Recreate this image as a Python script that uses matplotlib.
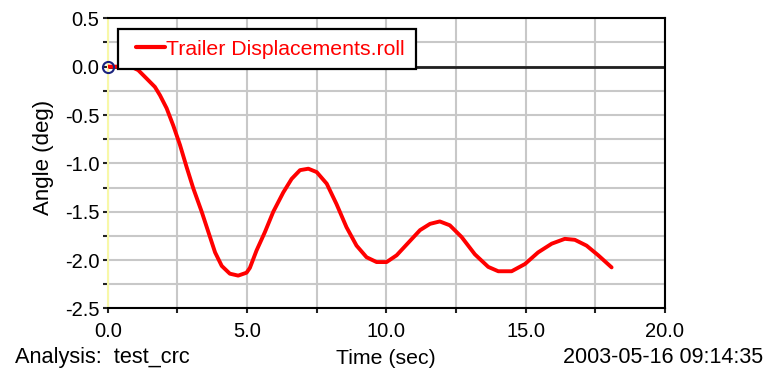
import matplotlib
matplotlib.use("Agg")
import numpy as np
import matplotlib.pyplot as plt
from matplotlib.ticker import MultipleLocator, FormatStrFormatter

# Trailer roll angle over time
time_s = [0.0, 0.5, 0.9, 1.09, 1.45, 1.69, 1.87, 2.11, 2.35, 2.59, 2.83, 3.07,
          3.37, 3.61, 3.85, 4.09, 4.38, 4.68, 4.98, 5.1, 5.34, 5.64, 5.94,
          6.3, 6.6, 6.9, 7.2, 7.5, 7.86, 8.21, 8.57, 8.93, 9.29, 9.65, 10.01,
          10.37, 10.79, 11.21, 11.57, 11.92, 12.28, 12.7, 13.18, 13.66, 14.02,
          14.5, 14.98, 15.45, 15.94, 16.41, 16.77, 17.19, 17.61, 18.09]
roll_deg = [0.0, 0.0, -0.01, -0.036, -0.14, -0.21, -0.295, -0.43, -0.61,
            -0.81, -1.04, -1.26, -1.5, -1.71, -1.92, -2.06, -2.14, -2.16,
            -2.13, -2.08, -1.9, -1.71, -1.5, -1.3, -1.16, -1.07, -1.055,
            -1.09, -1.21, -1.42, -1.66, -1.85, -1.97, -2.02, -2.02, -1.95,
            -1.82, -1.69, -1.625, -1.6, -1.64, -1.76, -1.94, -2.07, -2.115,
            -2.115, -2.04, -1.92, -1.83, -1.78, -1.79, -1.85, -1.95, -2.075]
series_name = "Trailer Displacements.roll"

analysis_text = "Analysis:  test_crc"
x_title = "Time (sec)"
stamp_text = "2003-05-16 09:14:35"
y_title = "Angle (deg)"

plt.rcParams["font.family"] = ["Liberation Sans", "DejaVu Sans"]

fig = plt.figure(figsize=(7.65, 3.72), dpi=100)
ax = fig.add_axes([0.141, 0.1707, 0.728, 0.7802])

ax.set_xlim(0, 20)
ax.set_ylim(-2.5, 0.5)

ax.xaxis.set_major_locator(MultipleLocator(5))
ax.xaxis.set_minor_locator(MultipleLocator(2.5))
ax.yaxis.set_major_locator(MultipleLocator(0.5))
ax.yaxis.set_minor_locator(MultipleLocator(0.25))
ax.xaxis.set_major_formatter(FormatStrFormatter("%.1f"))
ax.yaxis.set_major_formatter(FormatStrFormatter("%.1f"))

ax.grid(True, which="both", color="#c8c8c8", linewidth=1.5)
ax.set_axisbelow(True)

ax.tick_params(axis="both", which="both", direction="out", length=3.5,
               width=1.5, color="#222222", labelsize=14.5)
ax.tick_params(axis="x", which="both", pad=6)
ax.tick_params(axis="y", which="both", pad=2.5)

for side in ("top", "right", "bottom"):
    ax.spines[side].set_color("black")
    ax.spines[side].set_linewidth(1.5)
ax.spines["left"].set_color("#f8f8a8")
ax.spines["left"].set_linewidth(1.5)

ax.axhline(0, color="#202020", linewidth=2, zorder=2)

ax.plot(time_s, roll_deg, color="red", linewidth=2.8, label=series_name,
        zorder=3, solid_joinstyle="round", solid_capstyle="round")
ax.plot(time_s[0], roll_deg[0], marker="o", markersize=8, markeredgecolor="#1a237e",
        markerfacecolor="none", markeredgewidth=1.5, linestyle="none", zorder=4,
        clip_on=False)

leg = ax.legend(loc="upper left", bbox_to_anchor=(0.018, 0.963),
                borderaxespad=0, fontsize=15.3, labelcolor="red",
                handlelength=1.7, handletextpad=0.08, borderpad=0.5,
                fancybox=False, framealpha=1, edgecolor="black")
leg.get_frame().set_linewidth(1.6)
leg.set_zorder(5)
# Inset the sample line toward the label, leaving a wider left margin
for legline in leg.get_lines():
    xd = np.asarray(legline.get_xdata(), dtype=float)
    start = xd[0] + 0.22 * (xd[-1] - xd[0])
    legline.set_xdata(np.linspace(start, xd[-1], len(xd)))
    legline.set_linewidth(3)

ax.set_ylabel(y_title, fontsize=16)
ax.yaxis.set_label_coords(-0.097, 0.52)

fig.text(0.019, 0.012, analysis_text, fontsize=15.7, ha="left", va="bottom")
fig.text(0.505, 0.012, x_title, fontsize=15.3, ha="center", va="bottom")
fig.text(0.997, 0.012, stamp_text, fontsize=15.5, ha="right", va="bottom")

fig.savefig("out.png", dpi=100)
